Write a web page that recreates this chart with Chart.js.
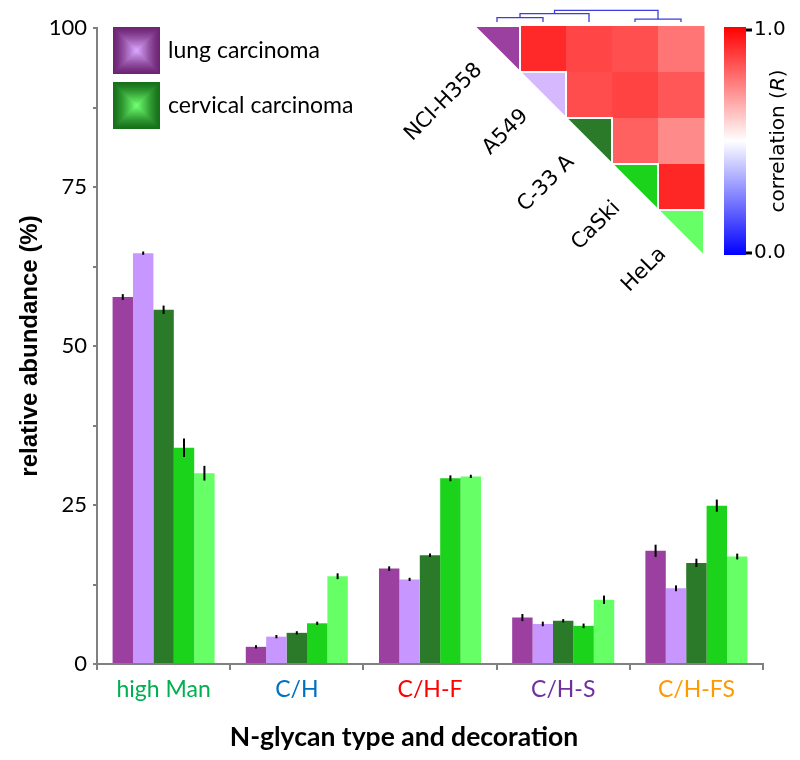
<!DOCTYPE html>
<html>
<head>
<meta charset="utf-8">
<script src="https://cdn.jsdelivr.net/npm/chart.js@4.4.1/dist/chart.umd.min.js"></script>
<style>
  body { margin: 0; background: #fff; }
  #wrap { position: relative; width: 800px; height: 760px; }
  #main { position: absolute; left: 0; top: 0; }
  #heat { position: absolute; left: 400px; top: 0; }
</style>
</head>
<body>
<div id="wrap">
  <canvas id="main" width="800" height="760"></canvas>
  <canvas id="heat" width="400" height="300"></canvas>
</div>
<script>
// categories and cell lines
const categories = ['high Man', 'C/H', 'C/H-F', 'C/H-S', 'C/H-FS'];
const cellLines = ['NCI-H358', 'A549', 'C-33 A', 'CaSki', 'HeLa'];

// relative abundance (%) per cell line
const nciH358 = [57.7, 2.7, 15.0, 7.3, 17.8];
const a549    = [64.6, 4.3, 13.3, 6.3, 11.9];
const c33a    = [55.7, 4.9, 17.1, 6.8, 15.9];
const caski   = [34.0, 6.4, 29.2, 6.0, 24.9];
const hela    = [30.0, 13.8, 29.5, 10.1, 16.9];

// error bars (+/-)
const nciH358Err = [0.3, 0.1, 0.2, 0.4, 0.8];
const a549Err    = [0.1, 0.1, 0.1, 0.2, 0.3];
const c33aErr    = [0.5, 0.1, 0.1, 0.1, 0.5];
const caskiErr   = [1.3, 0.1, 0.3, 0.2, 0.8];
const helaErr    = [1.0, 0.3, 0.1, 0.5, 0.3];

const yTickLabels = [0, 25, 50, 75, 100];
const barColors = ['#9b3fa0', '#c896ff', '#2a7a2a', '#1ad31a', '#66ff66'];
const tickColors = ['#00b050', '#0070c0', '#ff0000', '#7030a0', '#ff9900'];
const xTitle = 'N-glycan type and decoration';

const legendLabels = ['lung carcinoma', 'cervical carcinoma'];
const legendOuter = ['#6e2473', '#17701a'];
const legendInner = ['#d9a6ff', '#70ff70'];

// correlation matrix (upper triangle used), order = cellLines
const corrR = [
  [1.00, 0.92, 0.865, 0.845, 0.77],
  [0.92, 1.00, 0.85, 0.87, 0.83],
  [0.865, 0.85, 1.00, 0.81, 0.73],
  [0.845, 0.87, 0.81, 1.00, 0.925],
  [0.77, 0.83, 0.73, 0.925, 1.00]
];
const diagColors = ['#9b3fa0', '#d6b8ff', '#2a7a2a', '#1ad31a', '#66ff66'];
// dendrogram: merges of node ids (leaves 0-4, new nodes 5..), linkage heights
const dendroMerges = [[0, 1], [5, 2], [3, 4], [6, 7]];
const dendroHeights = [0.11, 0.21, 0.07, 0.29];
const colorbarTicks = [0, 1];

const series = [nciH358, a549, c33a, caski, hela];
const errs = [nciH358Err, a549Err, c33aErr, caskiErr, helaErr];

const errorBars = {
  id: 'errorBars',
  afterDatasetsDraw(chart) {
    const { ctx, scales: { y } } = chart;
    ctx.save();
    ctx.strokeStyle = '#000';
    ctx.lineWidth = 2;
    chart.data.datasets.forEach((ds, di) => {
      const meta = chart.getDatasetMeta(di);
      meta.data.forEach((bar, i) => {
        const v = ds.data[i], e = ds.errors[i];
        ctx.beginPath();
        ctx.moveTo(bar.x, y.getPixelForValue(v + e) - 1);
        ctx.lineTo(bar.x, y.getPixelForValue(v - e) + 1);
        ctx.stroke();
      });
    });
    ctx.restore();
  }
};

function mix(c1, c2, t) {
  const a = parseInt(c1.slice(1), 16), b = parseInt(c2.slice(1), 16);
  const r = Math.round(((a >> 16) & 255) * (1 - t) + ((b >> 16) & 255) * t);
  const g = Math.round(((a >> 8) & 255) * (1 - t) + ((b >> 8) & 255) * t);
  const bl = Math.round((a & 255) * (1 - t) + (b & 255) * t);
  return `rgb(${r},${g},${bl})`;
}

const legendBoxes = {
  id: 'legendBoxes',
  afterDraw(chart) {
    const { ctx, chartArea: a } = chart;
    const size = 47;
    ctx.save();
    legendLabels.forEach((txt, k) => {
      const bx = a.left + 16, by = a.top - 1 + k * 55;
      const steps = 20;
      for (let s = 0; s < steps; s++) {
        const inset = s * (size / 2) / steps;
        ctx.fillStyle = mix(legendOuter[k], legendInner[k], Math.pow(s / (steps - 1), 1.3));
        ctx.fillRect(bx + inset, by + inset, size - 2 * inset, size - 2 * inset);
      }
      ctx.fillStyle = '#000';
      ctx.font = '23px Lato';
      ctx.textBaseline = 'middle';
      ctx.textAlign = 'left';
      ctx.fillText(txt, bx + size + 8, by + size / 2);
    });
    // x axis title (sits a little left of the plot centre in the original)
    ctx.font = 'bold 26.5px Lato';
    ctx.textAlign = 'center';
    ctx.fillText(xTitle, chart.width / 2 + 4, chart.height - 23);
    ctx.restore();
  }
};

new Chart(document.getElementById('main'), {
  type: 'bar',
  data: {
    labels: categories,
    datasets: series.map((s, i) => ({
      label: cellLines[i],
      data: s,
      errors: errs[i],
      backgroundColor: barColors[i],
      borderWidth: 0,
      categoryPercentage: 0.766,
      barPercentage: 1
    }))
  },
  options: {
    responsive: false,
    animation: false,
    layout: { padding: { top: 28, right: 37, left: 0, bottom: 0 } },
    plugins: { legend: { display: false }, tooltip: { enabled: false } },
    scales: {
      x: {
        grid: { drawOnChartArea: false, drawTicks: true, tickLength: 6, color: '#808080', lineWidth: 2, offset: true },
        border: { color: '#808080', width: 2 },
        ticks: { color: ctx => tickColors[ctx.index], font: { family: 'Lato', size: 23 }, padding: 6 },
        title: { display: false },
        afterFit: s => { s.height = 96; }
      },
      y: {
        min: 0, max: 100,
        afterBuildTicks: s => {
          const t = [];
          for (let v = 0; v <= 100; v += 12.5) t.push({ value: v });
          s.ticks = t;
        },
        ticks: {
          autoSkip: false, color: '#000', padding: 6,
          font: { family: 'Lato', size: 22 },
          callback: v => (yTickLabels.includes(v) ? String(v) : '')
        },
        grid: { drawOnChartArea: false, tickLength: 4, color: '#808080', lineWidth: 2 },
        border: { color: '#808080', width: 2 },
        title: {
          display: true, text: 'relative abundance (%)', color: '#000',
          font: { family: "'Liberation Sans', Arial", size: 24, weight: 'bold' }, padding: { top: 16, bottom: 0 }
        },
        afterFit: s => { s.width = 97; }
      }
    }
  },
  plugins: [errorBars, legendBoxes]
});

// ---- correlation heatmap inset ----
function corrColor(r) {
  if (r >= 0.5) {
    const c = Math.round(255 * (1 - (r - 0.5) / 0.5));
    return `rgb(255,${c},${c})`;
  }
  const c = Math.round(255 * (r / 0.5));
  return `rgb(${c},${c},255)`;
}

const heatPlugin = {
  id: 'heatmap',
  afterDraw(chart) {
    const { ctx, chartArea: a, scales: { x, y } } = chart;
    const n = cellLines.length;
    ctx.save();
    // cells
    for (let i = 0; i < n; i++) {
      for (let j = i + 1; j < n; j++) {
        const x0 = x.getPixelForValue(j), x1 = x.getPixelForValue(j + 1);
        const y0 = y.getPixelForValue(i), y1 = y.getPixelForValue(i + 1);
        ctx.fillStyle = corrColor(corrR[i][j]);
        ctx.fillRect(x0, y0, x1 - x0 + 0.5, y1 - y0 + 0.5);
      }
    }
    // diagonal triangles
    for (let i = 0; i < n; i++) {
      const x0 = x.getPixelForValue(i), x1 = x.getPixelForValue(i + 1);
      const y0 = y.getPixelForValue(i), y1 = y.getPixelForValue(i + 1);
      ctx.beginPath();
      ctx.moveTo(x0, y0);
      ctx.lineTo(x1, y0);
      ctx.lineTo(x1, y1);
      ctx.closePath();
      ctx.fillStyle = diagColors[i];
      ctx.fill();
      ctx.strokeStyle = '#fff';
      ctx.lineWidth = 2;
      ctx.stroke();
      // label
      const mx = (x0 + x1) / 2, my = (y0 + y1) / 2;
      ctx.save();
      ctx.translate(mx - 18, my + 18);
      ctx.rotate(-Math.PI / 4);
      ctx.fillStyle = '#000';
      ctx.font = '21px "DejaVu Sans"';
      ctx.textAlign = 'right';
      ctx.textBaseline = 'middle';
      ctx.fillText(cellLines[i], 0, 0);
      ctx.restore();
    }
    // dendrogram
    const base = a.top - 4, k = 40;
    const nodes = cellLines.map((_, i) => ({ x: x.getPixelForValue(i + 0.5), h: 0 }));
    ctx.strokeStyle = '#3c3ce0';
    ctx.lineWidth = 1.3;
    dendroMerges.forEach(([p, q], m) => {
      const A = nodes[p], B = nodes[q], h = dendroHeights[m];
      const yh = base - h * k;
      ctx.beginPath();
      ctx.moveTo(A.x, base - A.h * k);
      ctx.lineTo(A.x, yh);
      ctx.lineTo(B.x, yh);
      ctx.lineTo(B.x, base - B.h * k);
      ctx.stroke();
      nodes.push({ x: (A.x + B.x) / 2, h });
    });
    // colorbar
    const cx = a.right + 20, cw = 22, ct = a.top + 1, cb = a.bottom - 1;
    const g = ctx.createLinearGradient(0, ct, 0, cb);
    g.addColorStop(0, '#ff0000');
    g.addColorStop(0.5, '#ffffff');
    g.addColorStop(1, '#0000ff');
    ctx.fillStyle = g;
    ctx.fillRect(cx, ct, cw, cb - ct);
    ctx.fillStyle = '#000';
    ctx.font = '20px "DejaVu Sans"';
    ctx.textAlign = 'left';
    ctx.textBaseline = 'middle';
    colorbarTicks.forEach(v => {
      const py = cb - 2 - v * (cb - ct - 5);
      ctx.fillRect(cx + cw, py - 1.5, 6, 3);
      ctx.fillText(v.toFixed(1), cx + cw + 8, py);
    });
    // colorbar title
    ctx.save();
    ctx.translate(cx + cw + 33, (ct + cb) / 2);
    ctx.rotate(-Math.PI / 2);
    const p1 = 'correlation (', p2 = 'R', p3 = ')';
    ctx.font = '20px "DejaVu Sans"';
    const w1 = ctx.measureText(p1).width, w3 = ctx.measureText(p3).width;
    ctx.font = 'italic 20px "DejaVu Sans"';
    const w2 = ctx.measureText(p2).width;
    let sx = -(w1 + w2 + w3) / 2;
    ctx.textAlign = 'left';
    ctx.font = '20px "DejaVu Sans"';
    ctx.fillText(p1, sx, 0);
    ctx.font = 'italic 20px "DejaVu Sans"';
    ctx.fillText(p2, sx + w1, 0);
    ctx.font = '20px "DejaVu Sans"';
    ctx.fillText(p3, sx + w1 + w2, 0);
    ctx.restore();
    ctx.restore();
  }
};

new Chart(document.getElementById('heat'), {
  type: 'scatter',
  data: { datasets: [{ data: [] }] },
  options: {
    responsive: false,
    animation: false,
    layout: { padding: { left: 74, right: 96, top: 26, bottom: 44 } },
    plugins: { legend: { display: false }, tooltip: { enabled: false } },
    scales: {
      x: { type: 'linear', min: 0, max: cellLines.length, display: false },
      y: { type: 'linear', min: 0, max: cellLines.length, reverse: true, display: false }
    }
  },
  plugins: [heatPlugin]
});
</script>
</body>
</html>
